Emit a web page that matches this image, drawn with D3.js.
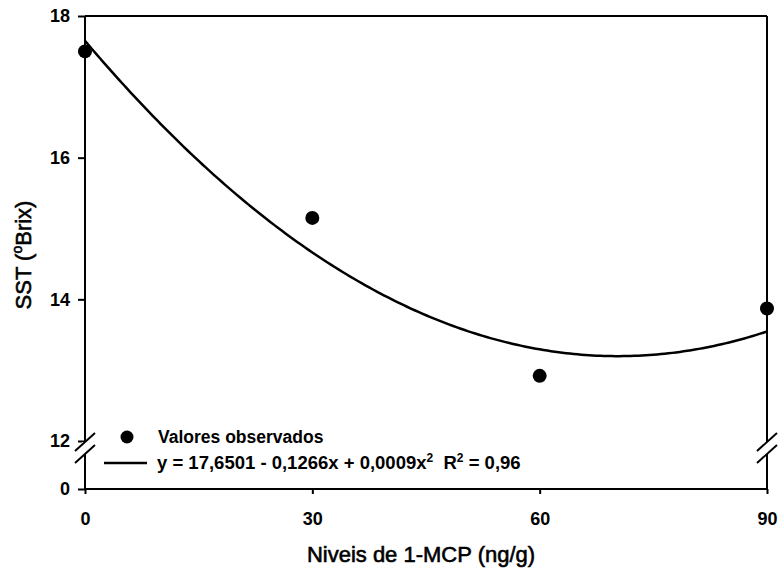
<!DOCTYPE html>
<html>
<head>
<meta charset="utf-8">
<script src="https://cdn.jsdelivr.net/npm/d3@7/dist/d3.min.js"></script>
<style>
  html, body { margin: 0; padding: 0; background: #fff; }
  svg { display: block; }
  text { font-family: "Liberation Sans", Arial, sans-serif; fill: #000; }
</style>
</head>
<body>
<svg id="chart" width="780" height="573"></svg>
<script>
// Observed SST values by 1-MCP dose
const doses = [0, 30, 60, 90];
const sstObserved = [17.5, 15.15, 12.92, 13.87];

// Quadratic fit reported in the legend
const fitCoef = [17.6501, -0.1266, 0.0009];
const fitR2 = "0,96";

const xTicks = [0, 30, 60, 90];
const yTicks = [0, 12, 14, 16, 18];

const svg = d3.select("#chart");

const plotLeft = 85, plotRight = 767, plotTop = 16, plotBottom = 489;

const x = d3.scaleLinear().domain([0, 90]).range([plotLeft, plotRight]);
// broken axis: 0..12 squeezed into the gap below the break
const y = d3.scaleLinear().domain([0, 12, 18]).range([plotBottom, 441, plotTop]);

const g = svg.append("g");
const tickFont = "'Liberation Sans', Arial, sans-serif";

// axes
const yAxis = d3.axisLeft(y).tickValues(yTicks).tickSize(7).tickPadding(8)
  .tickFormat(d3.format("d"));
const yg = g.append("g").attr("transform", `translate(${plotLeft},0)`).call(yAxis);
yg.select(".domain").remove();
yg.selectAll(".tick line").attr("stroke", "#000").attr("stroke-width", 2);
yg.selectAll(".tick text").attr("font-size", 18).attr("font-weight", "bold")
  .style("font-family", tickFont);

const xAxis = d3.axisBottom(x).tickValues(xTicks).tickSize(5).tickPadding(18)
  .tickFormat(d3.format("d"));
const xg = g.append("g").attr("transform", `translate(0,${plotBottom})`).call(xAxis);
xg.select(".domain").remove();
xg.selectAll(".tick line").attr("stroke", "#000").attr("stroke-width", 2);
xg.selectAll(".tick text").attr("font-size", 18).attr("font-weight", "bold")
  .style("font-family", tickFont);

// frame
const frame = g.append("g").attr("stroke", "#000").attr("stroke-width", 2).attr("fill", "none");
frame.append("line").attr("x1", plotLeft).attr("x2", plotRight).attr("y1", y(18)).attr("y2", y(18));
frame.append("line").attr("x1", plotLeft).attr("x2", plotRight).attr("y1", plotBottom).attr("y2", plotBottom);
frame.append("line").attr("x1", plotLeft).attr("x2", plotLeft).attr("y1", y(18)).attr("y2", plotBottom);
frame.append("line").attr("x1", plotRight).attr("x2", plotRight).attr("y1", y(18)).attr("y2", plotBottom);

// axis break marks
function axisBreak(xc, yc) {
  const b = g.append("g");
  b.append("rect").attr("x", xc - 3).attr("y", yc - 6).attr("width", 6).attr("height", 12).attr("fill", "#fff");
  [-6, 6].forEach(off => {
    b.append("line")
      .attr("x1", xc - 10).attr("y1", yc + off + 9)
      .attr("x2", xc + 10).attr("y2", yc + off - 9)
      .attr("stroke", "#000").attr("stroke-width", 2);
  });
}
axisBreak(plotLeft, 448);
axisBreak(plotRight, 448);

// fitted curve
const fit = v => fitCoef[0] + fitCoef[1] * v + fitCoef[2] * v * v;
const curveX = d3.range(0, 90.01, 0.5);
g.append("path")
  .datum(curveX)
  .attr("fill", "none").attr("stroke", "#000").attr("stroke-width", 2.5)
  .attr("d", d3.line().x(d => x(d)).y(d => y(fit(d))));

// observed points
g.selectAll("circle.obs").data(doses).enter().append("circle")
  .attr("class", "obs")
  .attr("cx", d => x(d)).attr("cy", (d, i) => y(sstObserved[i]))
  .attr("r", 7).attr("fill", "#000");

// legend
const lg = g.append("g");
lg.append("circle").attr("cx", 127).attr("cy", 437).attr("r", 6.5).attr("fill", "#000");
lg.append("text").attr("x", 158).attr("y", 443).attr("font-size", 17.5).attr("font-weight", "bold")
  .text("Valores observados");
lg.append("line").attr("x1", 104).attr("x2", 147).attr("y1", 463).attr("y2", 463)
  .attr("stroke", "#000").attr("stroke-width", 2.5);
const eq = lg.append("text").attr("x", 157).attr("y", 469).attr("font-size", 18.5).attr("font-weight", "bold");
eq.append("tspan").text("y = 17,6501 - 0,1266x + 0,0009x");
eq.append("tspan").attr("font-size", 12).attr("dy", -7).text("2");
eq.append("tspan").attr("dy", 7).text("\u00a0 R");
eq.append("tspan").attr("font-size", 12).attr("dy", -7).text("2");
eq.append("tspan").attr("dy", 7).text(" = " + fitR2);

// axis titles
g.append("text").attr("x", 421).attr("y", 562)
  .attr("text-anchor", "middle").attr("font-size", 22)
  .attr("stroke", "#000").attr("stroke-width", 0.6)
  .text("Niveis de 1-MCP (ng/g)");

const yt = g.append("text")
  .attr("transform", "translate(31,255) rotate(-90)")
  .attr("text-anchor", "middle").attr("font-size", 22)
  .attr("stroke", "#000").attr("stroke-width", 0.6);
yt.append("tspan").text("SST (");
yt.append("tspan").attr("font-size", 14).attr("dy", -9).text("o");
yt.append("tspan").attr("dy", 9).text("Brix)");
</script>
</body>
</html>
